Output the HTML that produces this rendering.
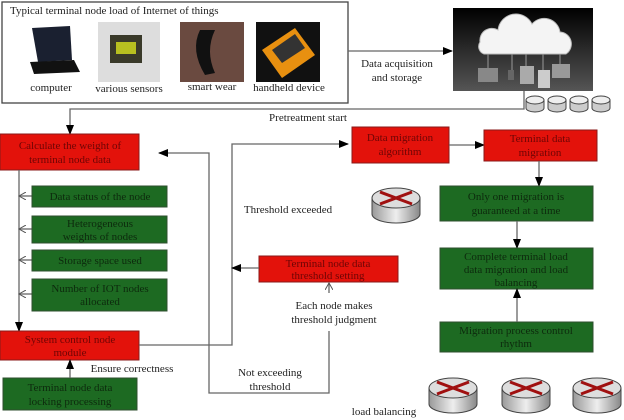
<!DOCTYPE html>
<html><head><meta charset="utf-8"><style>
body{margin:0;background:#fff}
svg{display:block}
text{font-family:"Liberation Serif",serif;font-size:11px}
.r{fill:#e3120b;stroke:#8a1a1a;stroke-width:1}
.g{fill:#1d6a22;stroke:#2f4f2f;stroke-width:1}
.rt{fill:#6e0505;text-anchor:middle}
.gt{fill:#0d2a0d;text-anchor:middle}
.l{stroke:#666;stroke-width:1.3;fill:none}
.k{fill:#222;text-anchor:middle}
</style></head><body>
<svg width="624" height="420" viewBox="0 0 624 420">
<defs>
<marker id="a" markerWidth="10" markerHeight="8" refX="9" refY="4" orient="auto" markerUnits="userSpaceOnUse"><path d="M0,0L10,4L0,8z" fill="#000"/></marker>
<marker id="o" markerWidth="8" markerHeight="8" refX="7" refY="4" orient="auto" markerUnits="userSpaceOnUse"><path d="M0,0L7,4L0,8" fill="none" stroke="#555"/></marker>
<linearGradient id="cg" x1="0" y1="0" x2="0" y2="1"><stop offset="0" stop-color="#000"/><stop offset="1" stop-color="#555"/></linearGradient>
<linearGradient id="rg" x1="0" y1="0" x2="1" y2="0"><stop offset="0" stop-color="#999"/><stop offset=".5" stop-color="#eee"/><stop offset="1" stop-color="#888"/></linearGradient>
<g id="router"><path d="M0,12 v16 a24,9 0 0 0 48,0 v-16z" fill="url(#rg)" stroke="#444"/><ellipse cx="24" cy="12" rx="24" ry="10" fill="#ddd" stroke="#444"/><path d="M8,18 L40,6 M8,6 L40,18" stroke="#a01010" stroke-width="3"/></g>
<g id="cyl"><path d="M0,4 v8 a9,4 0 0 0 18,0 v-8z" fill="#ccc" stroke="#444"/><ellipse cx="9" cy="4" rx="9" ry="4" fill="#eee" stroke="#444"/></g>
</defs>
<rect x="2" y="2" width="346" height="101" fill="#fff" stroke="#444" stroke-width="1.3"/>
<text x="10" y="14" fill="#222">Typical terminal node load of Internet of things</text>
<path d="M32,28 L70,26 L72,60 L38,62z" fill="#1a2030"/><path d="M30,62 L74,60 L80,72 L34,74z" fill="#111"/>
<rect x="98" y="22" width="62" height="60" fill="#ddd"/><rect x="110" y="35" width="32" height="28" fill="#3a3a2a"/><rect x="116" y="42" width="20" height="12" fill="#b8c020"/>
<rect x="180" y="22" width="64" height="60" fill="#6a4a40"/><path d="M200,30 q-10,20 5,45 l10,-2 q-10,-22 0,-43z" fill="#111"/>
<rect x="256" y="22" width="64" height="60" fill="#111"/><path d="M262,50 L295,28 L315,55 L282,78z" fill="#e89010"/><path d="M272,50 L295,34 L305,48 L282,63z" fill="#333"/>
<text x="51" y="91" class="k">computer</text><text x="129" y="92" class="k">various sensors</text>
<text x="212" y="90" class="k">smart wear</text><text x="289" y="91" class="k">handheld device</text>
<line x1="348" y1="51" x2="452" y2="51" class="l" marker-end="url(#a)"/>
<text x="397" y="67" class="k">Data acquisition</text><text x="397" y="81" class="k">and storage</text>
<rect x="453" y="8" width="140" height="83" fill="url(#cg)"/>
<path d="M480,42 a12,12 0 0 1 18,-12 a18,18 0 0 1 34,-6 a16,16 0 0 1 28,8 a12,12 0 0 1 6,22 h-82 a8,8 0 0 1 -4,-12z" fill="#f4f4f4" stroke="#bbb"/>
<g stroke="#999"><line x1="488" y1="54" x2="488" y2="68"/><line x1="512" y1="54" x2="512" y2="72"/><line x1="526" y1="54" x2="526" y2="66"/><line x1="543" y1="54" x2="543" y2="70"/><line x1="560" y1="54" x2="560" y2="64"/></g>
<rect x="478" y="68" width="20" height="14" fill="#888"/><rect x="508" y="70" width="6" height="10" fill="#666"/><rect x="520" y="66" width="14" height="18" fill="#aaa"/><rect x="538" y="70" width="12" height="18" fill="#ccc"/><rect x="552" y="64" width="18" height="14" fill="#999"/>
<use href="#cyl" x="526" y="96"/><use href="#cyl" x="548" y="96"/><use href="#cyl" x="570" y="96"/><use href="#cyl" x="592" y="96"/>
<polyline points="524,91 524,109 70,109 70,134" class="l" marker-end="url(#a)"/>
<text x="308" y="121" class="k">Pretreatment start</text>
<rect x="0" y="134" width="139" height="36" class="r"/>
<text x="70" y="149" class="rt">Calculate the weight of</text><text x="70" y="163" class="rt">terminal node data</text>
<line x1="19" y1="170" x2="19" y2="331" class="l" marker-end="url(#a)"/>
<g class="l"><line x1="32" y1="196" x2="19" y2="196" marker-end="url(#o)"/><line x1="32" y1="229" x2="19" y2="229" marker-end="url(#o)"/><line x1="32" y1="260" x2="19" y2="260" marker-end="url(#o)"/><line x1="32" y1="294" x2="19" y2="294" marker-end="url(#o)"/></g>
<rect x="32" y="186" width="135" height="21" class="g"/><text x="100" y="200" class="gt">Data status of the node</text>
<rect x="32" y="216" width="135" height="27" class="g"/><text x="100" y="227" class="gt">Heterogeneous</text><text x="100" y="240" class="gt">weights of nodes</text>
<rect x="32" y="250" width="135" height="21" class="g"/><text x="100" y="264" class="gt">Storage space used</text>
<rect x="32" y="279" width="135" height="32" class="g"/><text x="100" y="292" class="gt">Number of IOT nodes</text><text x="100" y="305" class="gt">allocated</text>
<rect x="0" y="331" width="139" height="29" class="r"/>
<text x="70" y="343" class="rt">System control node</text><text x="70" y="356" class="rt">module</text>
<rect x="3" y="378" width="134" height="32" class="g"/><text x="70" y="391" class="gt">Terminal node data</text><text x="70" y="405" class="gt">locking processing</text>
<line x1="70" y1="378" x2="70" y2="360" class="l" marker-end="url(#a)"/>
<text x="132" y="372" class="k">Ensure correctness</text>
<polyline points="139,345 232,345 232,144 348,144" class="l" marker-end="url(#a)"/>
<text x="288" y="213" class="k">Threshold exceeded</text>
<rect x="259" y="256" width="139" height="26" class="r"/>
<text x="328" y="267" class="rt">Terminal node data</text><text x="328" y="279" class="rt">threshold setting</text>
<line x1="259" y1="268" x2="232" y2="268" class="l" marker-end="url(#a)"/>
<line x1="329" y1="293" x2="329" y2="283" class="l" marker-end="url(#o)"/>
<text x="334" y="309" class="k">Each node makes</text><text x="334" y="323" class="k">threshold judgment</text>
<polyline points="329,331 329,393 209,393 209,153 159,153" class="l" marker-end="url(#a)"/>
<text x="270" y="376" class="k">Not exceeding</text><text x="270" y="390" class="k">threshold</text>
<rect x="352" y="127" width="97" height="36" class="r"/>
<text x="400" y="141" class="rt">Data migration</text><text x="400" y="155" class="rt">algorithm</text>
<line x1="449" y1="145" x2="484" y2="145" class="l" marker-end="url(#a)"/>
<rect x="484" y="130" width="113" height="31" class="r"/>
<text x="540" y="142" class="rt">Terminal data</text><text x="540" y="156" class="rt">migration</text>
<line x1="539" y1="161" x2="539" y2="186" class="l" marker-end="url(#a)"/>
<rect x="440" y="186" width="153" height="35" class="g"/>
<text x="516" y="200" class="gt">Only one migration is</text><text x="516" y="214" class="gt">guaranteed at a time</text>
<line x1="517" y1="221" x2="517" y2="248" class="l" marker-end="url(#a)"/>
<rect x="440" y="248" width="153" height="41" class="g"/>
<text x="516" y="260" class="gt">Complete terminal load</text><text x="516" y="273" class="gt">data migration and load</text><text x="516" y="286" class="gt">balancing</text>
<rect x="440" y="322" width="153" height="30" class="g"/>
<text x="516" y="334" class="gt">Migration process control</text><text x="516" y="347" class="gt">rhythm</text>
<line x1="517" y1="322" x2="517" y2="289" class="l" marker-end="url(#a)"/>
<use href="#router" x="372" y="186"/>
<use href="#router" x="429" y="376"/><use href="#router" x="502" y="376"/><use href="#router" x="573" y="376"/>
<text x="384" y="415" class="k">load balancing</text>
</svg>
</body></html>
